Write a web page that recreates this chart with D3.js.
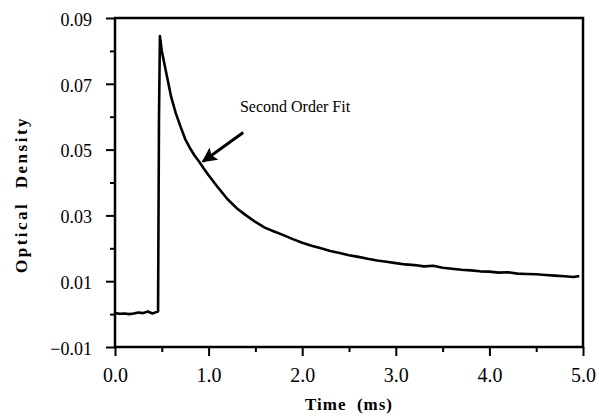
<!DOCTYPE html>
<html>
<head>
<meta charset="UTF-8">
<title>Optical Density decay</title>
<style>
  body { margin: 0; background: #fff; }
  #canvas { width: 599px; height: 416px; }
  .tick-label { font-family: "Liberation Serif", "Times New Roman", serif; fill: #000; }
  .axis-title { font-family: "Liberation Serif", "Times New Roman", serif; font-weight: bold; fill: #000; white-space: pre; }
</style>
<script src="https://cdn.jsdelivr.net/npm/d3@7"></script>
</head>
<body>
<div id="canvas"></div>
<script>
// time (ms)
var time = [0.00, 0.05, 0.10, 0.15, 0.20, 0.25, 0.30, 0.35, 0.40, 0.44, 0.46,
            0.47, 0.48, 0.50, 0.55, 0.60, 0.65, 0.70, 0.75, 0.80, 0.85, 0.90, 0.95, 1.00,
            1.10, 1.20, 1.30, 1.40, 1.50, 1.60, 1.70, 1.80, 1.90, 2.00,
            2.10, 2.20, 2.30, 2.40, 2.50, 2.60, 2.70, 2.80, 2.90, 3.00,
            3.10, 3.20, 3.30, 3.40, 3.50, 3.60, 3.70, 3.80, 3.90, 4.00,
            4.10, 4.20, 4.30, 4.40, 4.50, 4.60, 4.70, 4.80, 4.90, 4.96];
// optical density
var od = [0.0003, 0.0001, 0.0002, 0.0000, 0.0002, 0.0005, 0.0003, 0.0008, 0.0002, 0.0006, 0.0008,
          0.0600, 0.0845, 0.0800, 0.0730, 0.0660, 0.0610, 0.0570, 0.0532, 0.0505, 0.0482, 0.0463, 0.0442, 0.0422,
          0.0385, 0.0350, 0.0322, 0.0300, 0.0280, 0.0263, 0.0251, 0.0240, 0.0228, 0.0217,
          0.0208, 0.0200, 0.0192, 0.0186, 0.0179, 0.0174, 0.0168, 0.0163, 0.0159, 0.0155,
          0.0151, 0.0149, 0.0145, 0.0147, 0.0141, 0.0138, 0.0135, 0.0133, 0.0130, 0.0129,
          0.0126, 0.0127, 0.0123, 0.0122, 0.0121, 0.0119, 0.0117, 0.0115, 0.0113, 0.0116];

var xTicks = [0, 1, 2, 3, 4, 5];
var xMinor = [0.5, 1.5, 2.5, 3.5, 4.5];
var yTicks = [-0.01, 0.01, 0.03, 0.05, 0.07, 0.09];
var yMinor = [0.00, 0.02, 0.04, 0.06, 0.08];

var noteText = "Second Order Fit";
var notePos = [1.335, 0.0613];
var arrowFrom = [1.37, 0.0552];
var arrowTo = [0.94, 0.0464];

var W = 599, H = 416;
var margin = {top: 18, right: 16, bottom: 69, left: 115};
var innerW = W - margin.left - margin.right;
var innerH = H - margin.top - margin.bottom;

var x = d3.scaleLinear().domain([0, 5]).range([0, innerW]);
var y = d3.scaleLinear().domain([-0.01, 0.09]).range([innerH, 0]);

var svg = d3.select("#canvas").append("svg")
  .attr("width", W).attr("height", H);

var defs = svg.append("defs");
defs.append("marker")
  .attr("id", "head")
  .attr("viewBox", "0 0 10 10")
  .attr("refX", 9).attr("refY", 5)
  .attr("markerWidth", 5).attr("markerHeight", 5)
  .attr("markerUnits", "strokeWidth")
  .attr("orient", "auto")
  .append("path").attr("d", "M0,0 L10,5 L0,10 L2,5 Z").attr("fill", "#000");

var g = svg.append("g").attr("transform", "translate(" + margin.left + "," + margin.top + ")");

// axes
var xAxis = d3.axisBottom(x).tickValues(xTicks).tickSize(9).tickPadding(12).tickFormat(d3.format(".1f"));
var yAxis = d3.axisLeft(y).tickValues(yTicks).tickSize(9).tickPadding(14).tickFormat(d3.format(".2f"));

var gx = g.append("g").attr("transform", "translate(0," + innerH + ")").call(xAxis);
gx.append("g").call(d3.axisBottom(x).tickValues(xMinor).tickSize(5).tickFormat(""));
var gy = g.append("g").call(yAxis);
gy.append("g").call(d3.axisLeft(y).tickValues(yMinor).tickSize(5).tickFormat(""));

[gx, gy].forEach(function(a) {
  a.selectAll(".domain").remove();
  a.selectAll("line").attr("stroke", "#000").attr("stroke-width", 2);
  a.selectAll("text").attr("class", "tick-label");
});
gx.selectAll("text").style("font-size", "20px");
gy.selectAll("text").style("font-size", "18px").attr("dy", "0.4em");

// frame
g.append("rect")
  .attr("x", 0).attr("y", 0).attr("width", innerW).attr("height", innerH)
  .attr("fill", "none").attr("stroke", "#000").attr("stroke-width", 2.5);

// data trace
var line = d3.line()
  .x(function(d, i) { return x(time[i]); })
  .y(function(d) { return y(d); });

g.append("path")
  .datum(od)
  .attr("fill", "none")
  .attr("stroke", "#000")
  .attr("stroke-width", 2.6)
  .attr("stroke-linejoin", "round")
  .attr("d", line);

// annotation
g.append("text")
  .attr("x", x(notePos[0])).attr("y", y(notePos[1]))
  .attr("class", "tick-label")
  .style("font-size", "16px")
  .text(noteText);

g.append("line")
  .attr("x1", x(arrowFrom[0])).attr("y1", y(arrowFrom[1]))
  .attr("x2", x(arrowTo[0])).attr("y2", y(arrowTo[1]))
  .attr("stroke", "#000").attr("stroke-width", 3)
  .attr("marker-end", "url(#head)");

// axis titles
svg.append("text")
  .attr("class", "axis-title")
  .attr("x", margin.left + innerW / 2).attr("y", 410)
  .attr("text-anchor", "middle")
  .style("font-size", "17px").style("letter-spacing", "1px")
  .text("Time  (ms)");

svg.append("text")
  .attr("class", "axis-title")
  .attr("transform", "translate(27," + (margin.top + innerH / 2 + 12) + ") rotate(-90)")
  .attr("text-anchor", "middle")
  .style("font-size", "17px").style("letter-spacing", "2.5px")
  .text("Optical  Density");
</script>
</body>
</html>
